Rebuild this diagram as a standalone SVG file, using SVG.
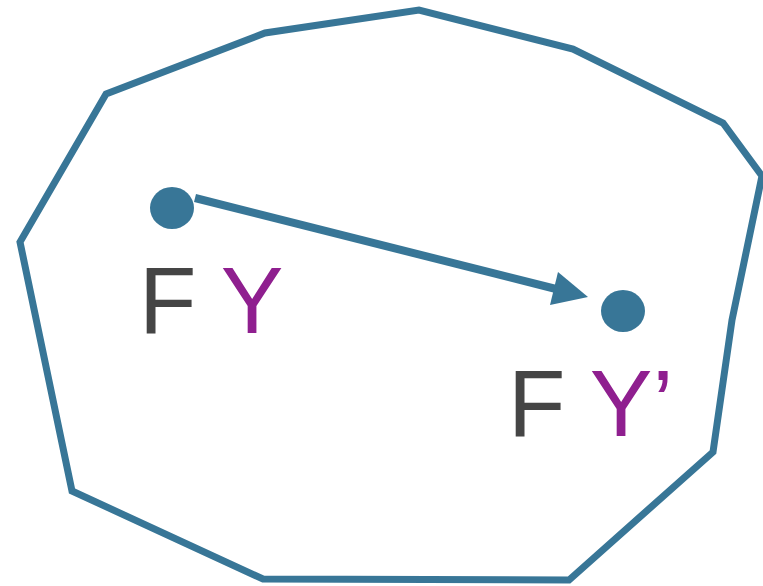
<svg xmlns="http://www.w3.org/2000/svg" width="763" height="586" viewBox="0 0 763 586">
<style>
.hull{fill:none;stroke:#387697;stroke-width:7;stroke-linejoin:miter}
.dot{fill:#387697}
.lbl{font-family:"Liberation Sans",Arial,sans-serif;font-size:94px}
.f{fill:#454545}
.y{fill:#8f1f8f}
.edge{stroke:#387697;stroke-width:8;fill:none}
.head{fill:#387697}
</style>
<g id="hull">
<polygon class="hull" points="106,94 265,33 419,10 573,49 723,123 762,176 732,320 713,452 569,580 263,579 72,491 20,242"/>
</g>
<g id="node-FY">
<ellipse class="dot" cx="172" cy="208" rx="22" ry="21"/>
<text class="lbl" x="139" y="333"><tspan class="f">F</tspan><tspan class="y"> Y</tspan></text>
</g>
<g id="node-FY2">
<ellipse class="dot" cx="623" cy="311" rx="22" ry="21"/>
<text class="lbl" x="508" y="436"><tspan class="f">F</tspan><tspan class="y"> Y’</tspan></text>
</g>
<g id="connectors">
<line class="edge" x1="195" y1="198" x2="560" y2="290"/>
<polygon class="head" points="558,272 588,297 550,305"/>
</g>
</svg>
